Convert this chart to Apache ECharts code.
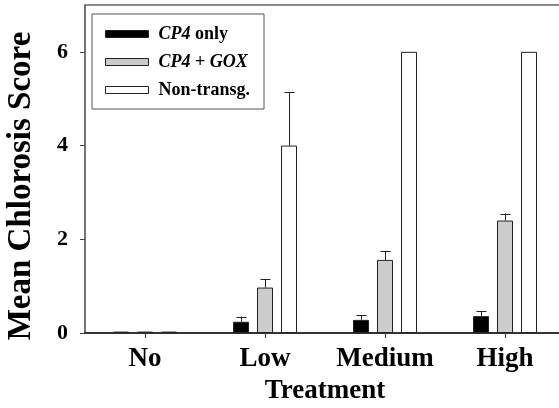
<!DOCTYPE html>
<html>
<head>
<meta charset="utf-8">
<script src="https://cdn.jsdelivr.net/npm/echarts@6/dist/echarts.min.js"></script>
<style>
html,body{margin:0;padding:0;background:#fff;}
#chart{width:559px;height:408px;}
</style>
</head>
<body>
<div id="chart"></div>
<script>
const categories = ['No', 'Low', 'Medium', 'High'];
const seriesNames = ['CP4 only', 'CP4 + GOX', 'Non-transg.'];
const cp4Only = [0.03, 0.24, 0.28, 0.36];
const cp4OnlyErr = [0, 0.11, 0.10, 0.10];
const cp4Gox = [0.03, 0.97, 1.56, 2.40];
const cp4GoxErr = [0, 0.18, 0.18, 0.15];
const nonTransg = [0.03, 4.0, 6.0, 6.0];
const nonTransgErr = [0, 1.14, 0, 0];
const yTicks = [0, 2, 4, 6];

const FONT = '"Liberation Serif", "Times New Roman", serif';
const fills = ['#000000', '#cccccc', '#ffffff'];
const values = [cp4Only, cp4Gox, nonTransg];
const errs = [cp4OnlyErr, cp4GoxErr, nonTransgErr];
const BAR_W = 16, STEP = 24;

const chart = echarts.init(document.getElementById('chart'), null, {renderer: 'canvas'});

const barSeries = seriesNames.map((n, i) => ({
  name: n,
  type: 'bar',
  data: values[i],
  barWidth: BAR_W,
  barGap: '50%',
  itemStyle: {color: fills[i], borderColor: '#222', borderWidth: 1},
  emphasis: {disabled: true},
  z: 2
}));

const errSeries = seriesNames.map((n, i) => ({
  name: n + ' err',
  type: 'custom',
  data: categories.map((c, k) => [k, values[i][k], errs[i][k]]),
  z: 3,
  renderItem: function (params, api) {
    const e = api.value(2);
    if (!e) return null;
    const x = api.value(0), y = api.value(1);
    const b = api.coord([x, y]);
    const t = api.coord([x, y + e]);
    const off = (i - 1) * STEP;
    const cx = Math.round(b[0] + off) + 0.5;
    const style = {stroke: '#222', lineWidth: 1, fill: null};
    return {
      type: 'group',
      children: [
        {type: 'line', shape: {x1: cx, y1: b[1], x2: cx, y2: t[1]}, style: style},
        {type: 'line', shape: {x1: cx - 5, y1: Math.round(t[1]) + 0.5, x2: cx + 5, y2: Math.round(t[1]) + 0.5}, style: style}
      ]
    };
  }
}));

chart.setOption({
  animation: false,
  backgroundColor: '#fff',
  grid: {left: 85, right: -6, top: 5, bottom: 75, containLabel: false, outerBoundsMode: 'none'},
  legend: {
    orient: 'vertical',
    left: 92,
    top: 14,
    padding: [10, 14, 9, 13],
    itemGap: 8,
    itemWidth: 43,
    itemHeight: 7,
    borderColor: '#555',
    borderWidth: 1,
    backgroundColor: '#fff',
    icon: 'rect',
    data: seriesNames.map((n, i) => ({
      name: n,
      itemStyle: {color: fills[i], borderColor: '#222', borderWidth: 1}
    })),
    formatter: function (name) {
      if (name === 'CP4 only') return '{i|CP4} only';
      if (name === 'CP4 + GOX') return '{i|CP4} + {i|GOX}';
      return name;
    },
    textStyle: {
      fontFamily: FONT, fontWeight: 'bold', fontSize: 18, color: '#000',
      lineHeight: 20, padding: [0, 0, 0, 5],
      rich: {i: {fontFamily: FONT, fontWeight: 'bold', fontStyle: 'italic', fontSize: 18, color: '#000'}}
    }
  },
  xAxis: [{
    type: 'category',
    data: categories,
    position: 'bottom',
    axisLine: {lineStyle: {color: '#333', width: 2}},
    axisTick: {show: true, alignWithLabel: true, inside: false, length: 5, lineStyle: {color: '#333'}},
    axisLabel: {fontFamily: FONT, fontWeight: 'bold', fontSize: 27, color: '#000', margin: 13, interval: 0, hideOverlap: false},
    name: 'Treatment',
    nameLocation: 'middle',
    nameGap: 42,
    nameTextStyle: {fontFamily: FONT, fontWeight: 'bold', fontSize: 27, color: '#000'}
  }, {
    type: 'category',
    data: categories,
    position: 'top',
    axisLine: {lineStyle: {color: '#666', width: 1.5}},
    axisTick: {show: false},
    axisLabel: {show: false}
  }],
  yAxis: {
    type: 'value',
    min: 0,
    max: 7,
    interval: 1,
    splitLine: {show: false},
    axisLine: {show: true, lineStyle: {color: '#444', width: 1.5}},
    axisTick: {show: true, length: 5, lineStyle: {color: '#444'}, customValues: yTicks},
    axisLabel: {fontFamily: FONT, fontWeight: 'bold', fontSize: 22, color: '#000', margin: 17, customValues: yTicks},
    name: 'Mean Chlorosis Score',
    nameLocation: 'middle',
    nameGap: 47,
    nameTextStyle: {fontFamily: FONT, fontWeight: 'bold', fontSize: 33, color: '#000', padding: [0, 34, 0, 0]}
  },
  series: barSeries.concat(errSeries)
});
</script>
</body>
</html>
